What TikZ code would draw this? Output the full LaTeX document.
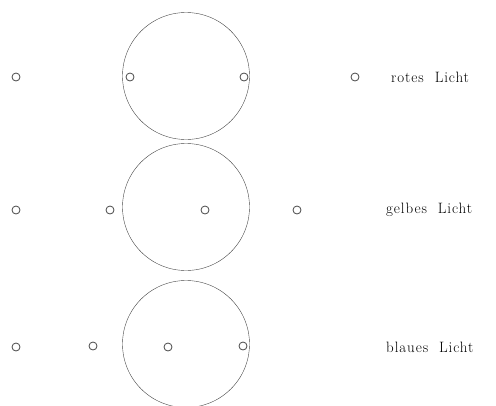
\documentclass[tikz,border=0pt]{standalone}
\usepackage{fontspec}
\setmainfont{Latin Modern Roman}[LetterSpace=6]
\usetikzlibrary{positioning}
\definecolor{ink}{RGB}{70,70,70}
\newcommand{\gap}{\hspace{11pt}}

\begin{document}
\begin{tikzpicture}[x=1pt, y=-1pt,
  disc/.style={circle, draw=ink, thin, minimum size=127pt, inner sep=0pt},
  hole/.style={circle, draw=ink, line width=0.8pt, minimum size=8pt, inner sep=0pt},
  caption/.style={anchor=west, inner sep=0pt, font=\fontsize{15}{17}\selectfont}
]
  \useasboundingbox (0,0) rectangle (496,405);

  % rotes Licht
  \node[disc] (rdisc) at (186,76) {};
  \node[hole] (r1) at (16,77) {};
  \node[hole] (r2) at (130,77) {};
  \node[hole] (r3) at (244,77) {};
  \node[hole] (r4) at (355,77) {};
  \node[caption] (rtext) at (391,77) {rotes\gap Licht};

  % gelbes Licht
  \node[disc] (gdisc) at (186,207) {};
  \node[hole] (g1) at (16,210) {};
  \node[hole] (g2) at (110,210) {};
  \node[hole] (g3) at (205,210) {};
  \node[hole] (g4) at (297,210) {};
  \node[caption] (gtext) at (386,210) {gelbes\gap Licht};

  % blaues Licht
  \node[disc] (bdisc) at (186,344) {};
  \node[hole] (b1) at (16,347) {};
  \node[hole] (b2) at (93,346) {};
  \node[hole] (b3) at (168,347) {};
  \node[hole] (b4) at (243,346) {};
  \node[caption] (btext) at (386,347) {blaues\gap Licht};
\end{tikzpicture}
\end{document}
